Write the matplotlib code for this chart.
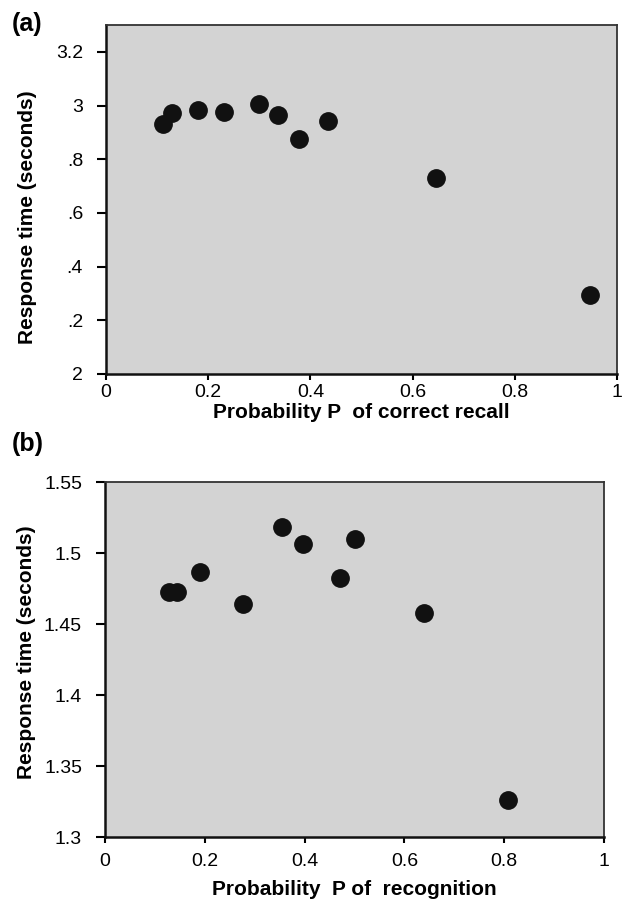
import matplotlib
matplotlib.use("Agg")
import matplotlib.pyplot as plt

plt.rcParams['font.family'] = ['Liberation Sans', 'DejaVu Sans']

# (a) recall data
recall_p = [0.112, 0.130, 0.181, 0.230, 0.299, 0.336, 0.378, 0.435, 0.645, 0.947]
recall_rt = [2.930, 2.973, 2.983, 2.977, 3.006, 2.963, 2.874, 2.942, 2.729, 2.296]
a_yticks = [2.0, 2.2, 2.4, 2.6, 2.8, 3.0, 3.2]
a_yticklabels = ['2', '.2', '.4', '.6', '.8', '3', '3.2']

# (b) recognition data
recog_p = [0.128, 0.145, 0.190, 0.277, 0.355, 0.397, 0.471, 0.502, 0.639, 0.808]
recog_rt = [1.4725, 1.4725, 1.4868, 1.4640, 1.5185, 1.5061, 1.4826, 1.5099, 1.4575, 1.3260]
b_yticks = [1.3, 1.35, 1.4, 1.45, 1.5, 1.55]
b_yticklabels = ['1.3', '1.35', '1.4', '1.45', '1.5', '1.55']

xticks = [0, 0.2, 0.4, 0.6, 0.8, 1]
xticklabels = ['0', '0.2', '0.4', '0.6', '0.8', '1']

W, H = 628, 905
fig = plt.figure(figsize=(W / 100, H / 100), dpi=100)


def make_axes(left, right, top, bottom):
    return fig.add_axes([left / W, 1 - bottom / H, (right - left) / W, (bottom - top) / H])


def style(ax, ylim, yticks, yticklabels, xlabel, xpad):
    ax.set_facecolor('#d3d3d3')
    ax.set_xlim(0, 1)
    ax.set_ylim(*ylim)
    ax.set_xticks(xticks)
    ax.set_xticklabels(xticklabels)
    ax.set_yticks(yticks)
    ax.set_yticklabels(yticklabels)
    ax.tick_params(axis='y', direction='out', length=6.5, width=1.5, pad=10, labelsize=14)
    ax.tick_params(axis='x', direction='out', length=4.5, width=1.5, pad=xpad, labelsize=14)
    for s in ['left', 'bottom']:
        ax.spines[s].set_linewidth(1.8)
        ax.spines[s].set_color('#111111')
    for s in ['top', 'right']:
        ax.spines[s].set_linewidth(1.3)
        ax.spines[s].set_color('#333333')
    ax.set_xlabel(xlabel, fontsize=15, fontweight='bold')
    ax.set_ylabel('Response time (seconds)', fontsize=15, fontweight='bold')


ax1 = make_axes(106, 617, 25, 374)
ax1.plot(recall_p, recall_rt, linestyle='none', marker='o', ms=12.5, color='#111111')
style(ax1, (2.0, 3.3), a_yticks, a_yticklabels, 'Probability P  of correct recall', 3)
ax1.xaxis.set_label_coords(0.5, -0.083)
ax1.yaxis.set_label_coords(-0.135, 0.45)

ax2 = make_axes(105, 604, 482, 837)
ax2.plot(recog_p, recog_rt, linestyle='none', marker='o', ms=12.5, color='#111111')
style(ax2, (1.3, 1.55), b_yticks, b_yticklabels, 'Probability  P of  recognition', 7)
ax2.xaxis.set_label_coords(0.5, -0.12)
ax2.yaxis.set_label_coords(-0.138, 0.52)

fig.text(12 / W, 1 - 24 / H, '(a)', fontsize=18, fontweight='bold', va='center', ha='left')
fig.text(12 / W, 1 - 444 / H, '(b)', fontsize=18, fontweight='bold', va='center', ha='left')

fig.savefig('out.png', dpi=100)
